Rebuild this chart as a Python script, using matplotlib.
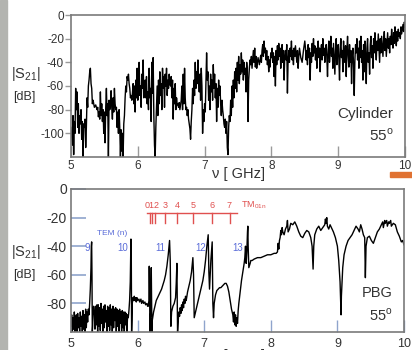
import matplotlib
matplotlib.use('Agg')
import matplotlib.pyplot as plt
from matplotlib.patches import Rectangle

plt.rcParams['font.family'] = ['Liberation Sans', 'DejaVu Sans']
plt.rcParams['axes.unicode_minus'] = False
plt.rcParams['mathtext.fontset'] = 'custom'
plt.rcParams['mathtext.rm'] = 'Liberation Sans'

# upper panel: cylinder, |S21| in dB vs frequency in GHz
cylinder = [
    (5.00, -95), (5.02, -110), (5.03, -85), (5.04, -118), (5.05, -90), (5.06, -100), (5.07, -62), (5.08, -80),
    (5.09, -65), (5.10, -95), (5.11, -75), (5.12, -100), (5.13, -85), (5.14, -92), (5.15, -80), (5.16, -105),
    (5.17, -90), (5.18, -120), (5.19, -92), (5.20, -95), (5.21, -88), (5.22, -112), (5.23, -95), (5.24, -70),
    (5.25, -78), (5.26, -60), (5.27, -55), (5.28, -48), (5.29, -45), (5.30, -58), (5.31, -62), (5.32, -75),
    (5.33, -72), (5.35, -78), (5.37, -76), (5.39, -80), (5.40, -78), (5.41, -86), (5.42, -82), (5.43, -88),
    (5.44, -65), (5.45, -85), (5.46, -75), (5.47, -90), (5.48, -80), (5.49, -100), (5.50, -82), (5.51, -108),
    (5.52, -78), (5.53, -62), (5.54, -85), (5.55, -75), (5.56, -120), (5.57, -72), (5.58, -80), (5.59, -76),
    (5.60, -64), (5.61, -78), (5.62, -88), (5.63, -70), (5.64, -82), (5.65, -62), (5.66, -75), (5.67, -80),
    (5.68, -78), (5.69, -95), (5.70, -82), (5.71, -100), (5.72, -80), (5.73, -95), (5.74, -120), (5.75, -97),
    (5.76, -115), (5.77, -100), (5.78, -120), (5.79, -92), (5.80, -85), (5.81, -70), (5.82, -60), (5.83, -65),
    (5.84, -52), (5.85, -55), (5.86, -50), (5.87, -58), (5.88, -62), (5.89, -70), (5.90, -68), (5.91, -72),
    (5.92, -66), (5.93, -58), (5.94, -75), (5.95, -60), (5.96, -82), (5.97, -55), (5.98, -70), (5.99, -45),
    (6.00, -72), (6.01, -62), (6.02, -40), (6.03, -68), (6.04, -60), (6.05, -78), (6.06, -50), (6.07, -62),
    (6.08, -38), (6.09, -70), (6.10, -64), (6.11, -55), (6.12, -70), (6.13, -52), (6.14, -75), (6.15, -65),
    (6.16, -80), (6.17, -45), (6.18, -70), (6.19, -62), (6.20, -90), (6.21, -40), (6.22, -66), (6.23, -36),
    (6.24, -85), (6.25, -110), (6.26, -120), (6.27, -95), (6.28, -78), (6.29, -60), (6.30, -85), (6.31, -55),
    (6.32, -75), (6.33, -48), (6.34, -68), (6.35, -58), (6.36, -80), (6.37, -45), (6.38, -62), (6.39, -52),
    (6.40, -78), (6.41, -50), (6.42, -60), (6.43, -45), (6.44, -68), (6.45, -55), (6.46, -62), (6.47, -50),
    (6.48, -58), (6.49, -60), (6.50, -52), (6.51, -70), (6.52, -55), (6.53, -88), (6.54, -62), (6.55, -75),
    (6.56, -58), (6.57, -80), (6.58, -70), (6.59, -76), (6.60, -75), (6.61, -78), (6.62, -74), (6.63, -80),
    (6.64, -76), (6.65, -72), (6.66, -60), (6.67, -80), (6.68, -50), (6.69, -75), (6.70, -45), (6.71, -70),
    (6.72, -80), (6.73, -78), (6.74, -85), (6.75, -80), (6.76, -88), (6.77, -92), (6.78, -96), (6.79, -105),
    (6.80, -90), (6.81, -80), (6.82, -62), (6.83, -75), (6.84, -55), (6.85, -68), (6.86, -40), (6.87, -62),
    (6.88, -48), (6.89, -58), (6.90, -38), (6.91, -55), (6.92, -65), (6.93, -50), (6.94, -72), (6.95, -45),
    (6.96, -60), (6.97, -100), (6.98, -80), (6.99, -90), (7.00, -75), (7.01, -82), (7.02, -58), (7.03, -32),
    (7.04, -55), (7.05, -48), (7.06, -72), (7.07, -60), (7.08, -80), (7.09, -50), (7.10, -65), (7.11, -55),
    (7.12, -72), (7.13, -42), (7.14, -62), (7.15, -50), (7.16, -70), (7.17, -58), (7.18, -90), (7.19, -62),
    (7.20, -78), (7.21, -55), (7.22, -68), (7.23, -60), (7.24, -75), (7.25, -85), (7.26, -72), (7.27, -80),
    (7.28, -85), (7.29, -92), (7.30, -95), (7.31, -88), (7.32, -100), (7.33, -90), (7.34, -112), (7.35, -118),
    (7.36, -95), (7.37, -85), (7.38, -90), (7.39, -72), (7.40, -85), (7.41, -60), (7.42, -78), (7.43, -55),
    (7.44, -70), (7.45, -48), (7.46, -62), (7.47, -45), (7.48, -65), (7.49, -40), (7.50, -55), (7.51, -35),
    (7.52, -58), (7.53, -42), (7.54, -50), (7.55, -32), (7.56, -48), (7.57, -38), (7.58, -55), (7.59, -40),
    (7.60, -50), (7.61, -45), (7.62, -65), (7.63, -40), (7.64, -48), (7.65, -90), (7.66, -55), (7.67, -45),
    (7.68, -38), (7.69, -42), (7.70, -35), (7.71, -45), (7.72, -38), (7.73, -30), (7.74, -40), (7.75, -28),
    (7.76, -44), (7.77, -35), (7.78, -45), (7.79, -40), (7.80, -36), (7.82, -42), (7.84, -34), (7.85, -40),
    (7.86, -30), (7.87, -25), (7.88, -35), (7.89, -22), (7.90, -32), (7.91, -28), (7.92, -38), (7.93, -30),
    (7.94, -42), (7.95, -35), (7.96, -48), (7.97, -38), (7.98, -44), (7.99, -32), (8.00, -36), (8.01, -28),
    (8.02, -40), (8.03, -32), (8.04, -52), (8.05, -35), (8.06, -60), (8.07, -30), (8.08, -42), (8.09, -26),
    (8.10, -38), (8.11, -24), (8.12, -35), (8.13, -28), (8.14, -45), (8.15, -32), (8.16, -25), (8.17, -40),
    (8.18, -30), (8.19, -55), (8.20, -35), (8.21, -30), (8.22, -38), (8.23, -25), (8.24, -66), (8.25, -38),
    (8.26, -30), (8.27, -40), (8.28, -28), (8.29, -35), (8.30, -22), (8.31, -38), (8.32, -30), (8.33, -42),
    (8.34, -28), (8.35, -35), (8.36, -26), (8.37, -33), (8.38, -40), (8.39, -30), (8.40, -45), (8.41, -35),
    (8.42, -28), (8.43, -32), (8.44, -36), (8.45, -38), (8.46, -40), (8.47, -35), (8.48, -30), (8.49, -26),
    (8.50, -22), (8.51, -28), (8.52, -38), (8.53, -30), (8.54, -42), (8.55, -25), (8.56, -36), (8.57, -28),
    (8.58, -55), (8.59, -32), (8.60, -40), (8.61, -24), (8.62, -35), (8.63, -20), (8.64, -32), (8.65, -26),
    (8.66, -38), (8.67, -28), (8.68, -45), (8.69, -30), (8.70, -22), (8.71, -36), (8.72, -28), (8.73, -48),
    (8.74, -30), (8.75, -25), (8.76, -38), (8.77, -20), (8.78, -34), (8.79, -28), (8.80, -40), (8.81, -30),
    (8.82, -25), (8.83, -36), (8.84, -52), (8.85, -30), (8.86, -22), (8.87, -40), (8.88, -30), (8.89, -18),
    (8.90, -35), (8.91, -28), (8.92, -45), (8.93, -24), (8.94, -38), (8.95, -50), (8.96, -30), (8.97, -20),
    (8.98, -42), (8.99, -32), (9.00, -25), (9.01, -38), (9.02, -55), (9.03, -28), (9.04, -20), (9.05, -36),
    (9.06, -30), (9.07, -48), (9.08, -22), (9.09, -35), (9.10, -40), (9.11, -26), (9.12, -52), (9.13, -30),
    (9.14, -18), (9.15, -35), (9.16, -44), (9.17, -25), (9.18, -40), (9.19, -30), (9.20, -58), (9.21, -35),
    (9.22, -28), (9.23, -42), (9.24, -68), (9.25, -38), (9.26, -25), (9.27, -32), (9.28, -20), (9.29, -38),
    (9.30, -28), (9.31, -45), (9.32, -22), (9.33, -36), (9.34, -18), (9.35, -40), (9.36, -30), (9.37, -55),
    (9.38, -25), (9.39, -48), (9.40, -22), (9.41, -35), (9.42, -58), (9.43, -28), (9.44, -20), (9.45, -40),
    (9.46, -32), (9.47, -50), (9.48, -25), (9.49, -18), (9.50, -36), (9.51, -26), (9.52, -45), (9.53, -20),
    (9.54, -32), (9.55, -15), (9.56, -28), (9.57, -38), (9.58, -22), (9.59, -30), (9.60, -16), (9.61, -28),
    (9.62, -40), (9.63, -20), (9.64, -32), (9.65, -18), (9.66, -26), (9.67, -35), (9.68, -22), (9.69, -14),
    (9.70, -30), (9.71, -20), (9.72, -35), (9.73, -25), (9.74, -15), (9.75, -28), (9.76, -20), (9.77, -32),
    (9.78, -18), (9.79, -25), (9.80, -12), (9.81, -22), (9.82, -28), (9.83, -15), (9.84, -24), (9.85, -10),
    (9.86, -20), (9.87, -26), (9.88, -14), (9.89, -22), (9.90, -12), (9.91, -18), (9.92, -15), (9.93, -20),
    (9.94, -10), (9.95, -16), (9.96, -12), (9.97, -8), (9.98, -14), (9.99, -6), (10.00, -10),
]

# lower panel: photonic band gap structure
pbg = [
    (5.00, -96), (5.01, -88), (5.02, -100), (5.03, -90), (5.04, -98), (5.05, -86), (5.06, -100), (5.07, -92),
    (5.08, -88), (5.09, -100), (5.10, -87), (5.11, -97), (5.12, -90), (5.13, -100), (5.14, -86), (5.15, -96),
    (5.16, -89), (5.17, -100), (5.18, -85), (5.19, -98), (5.20, -88), (5.21, -100), (5.22, -84), (5.23, -97),
    (5.24, -86), (5.25, -93), (5.26, -84), (5.27, -88), (5.28, -80), (5.29, -70), (5.30, -55), (5.305, -40),
    (5.31, -37), (5.315, -60), (5.32, -100), (5.325, -96), (5.33, -88), (5.34, -82), (5.35, -86), (5.36, -98),
    (5.37, -82), (5.38, -95), (5.39, -81), (5.40, -100), (5.41, -81), (5.42, -96), (5.43, -83), (5.44, -99),
    (5.45, -80), (5.46, -94), (5.47, -84), (5.48, -100), (5.49, -82), (5.50, -97), (5.51, -81), (5.52, -93),
    (5.53, -85), (5.54, -100), (5.55, -82), (5.56, -96), (5.57, -83), (5.58, -99), (5.59, -81), (5.60, -95),
    (5.61, -84), (5.62, -100), (5.63, -82), (5.64, -97), (5.65, -84), (5.66, -92), (5.67, -83), (5.68, -100),
    (5.69, -84), (5.70, -96), (5.71, -85), (5.72, -100), (5.73, -84), (5.74, -94), (5.75, -86), (5.76, -100),
    (5.77, -85), (5.78, -97), (5.79, -86), (5.80, -100), (5.81, -86), (5.82, -95), (5.83, -87), (5.84, -100),
    (5.85, -88), (5.86, -90), (5.87, -85), (5.88, -78), (5.89, -65), (5.895, -50), (5.90, -35), (5.905, -45),
    (5.91, -100), (5.915, -92), (5.92, -80), (5.93, -76), (5.94, -78), (5.95, -75), (5.96, -78), (5.97, -76),
    (5.98, -79), (5.99, -76), (6.00, -78), (6.02, -77), (6.03, -79), (6.05, -77), (6.06, -80), (6.08, -78),
    (6.09, -80), (6.11, -79), (6.12, -81), (6.14, -80), (6.15, -82), (6.16, -82), (6.17, -78), (6.175, -54),
    (6.18, -70), (6.185, -100), (6.19, -90), (6.20, -85), (6.205, -55), (6.21, -75), (6.215, -100), (6.22, -92),
    (6.24, -86), (6.26, -82), (6.28, -78), (6.30, -76), (6.32, -74), (6.34, -72), (6.36, -70), (6.38, -67),
    (6.40, -64), (6.42, -60), (6.44, -54), (6.46, -46), (6.48, -36), (6.49, -50), (6.50, -96), (6.51, -86),
    (6.53, -82), (6.55, -80), (6.57, -76), (6.58, -66), (6.59, -52), (6.60, -100), (6.61, -92), (6.62, -86),
    (6.63, -89), (6.64, -83), (6.65, -87), (6.66, -81), (6.67, -85), (6.68, -79), (6.69, -83), (6.70, -77),
    (6.71, -80), (6.72, -75), (6.73, -78), (6.75, -72), (6.77, -68), (6.79, -64), (6.81, -58), (6.83, -48),
    (6.84, -60), (6.85, -90), (6.86, -88), (6.88, -84), (6.90, -80), (6.92, -76), (6.94, -72), (6.96, -68),
    (6.98, -64), (7.00, -58), (7.02, -50), (7.04, -40), (7.06, -32), (7.07, -58), (7.08, -70), (7.10, -50),
    (7.12, -37), (7.13, -80), (7.14, -90), (7.15, -80), (7.17, -74), (7.19, -71), (7.21, -70), (7.23, -69),
    (7.25, -69), (7.27, -68), (7.29, -67), (7.31, -66), (7.33, -66), (7.35, -68), (7.37, -72), (7.39, -78),
    (7.41, -84), (7.43, -88), (7.44, -93), (7.45, -86), (7.46, -95), (7.47, -88), (7.48, -96), (7.49, -90),
    (7.50, -94), (7.51, -85), (7.52, -80), (7.54, -72), (7.56, -64), (7.58, -58), (7.60, -52), (7.61, -48),
    (7.62, -40), (7.63, -52), (7.64, -44), (7.65, -30), (7.655, -26), (7.66, -40), (7.67, -55), (7.69, -52),
    (7.70, -50), (7.72, -50), (7.75, -49), (7.80, -48), (7.85, -48), (7.90, -47), (7.95, -46), (8.00, -46),
    (8.05, -45), (8.08, -45), (8.10, -44), (8.11, -38), (8.12, -42), (8.13, -36), (8.14, -34), (8.15, -29),
    (8.16, -32), (8.17, -27), (8.18, -30), (8.20, -32), (8.22, -28), (8.24, -26), (8.25, -22), (8.26, -30),
    (8.28, -28), (8.30, -24), (8.33, -25), (8.36, -23), (8.39, -26), (8.42, -30), (8.45, -33), (8.48, -34),
    (8.51, -31), (8.54, -29), (8.57, -30), (8.60, -34), (8.62, -40), (8.635, -56), (8.645, -40), (8.66, -32),
    (8.69, -28), (8.72, -26), (8.75, -29), (8.78, -27), (8.81, -25), (8.82, -21), (8.83, -24), (8.84, -20),
    (8.85, -26), (8.87, -28), (8.89, -25), (8.91, -27), (8.94, -30), (8.97, -34), (9.00, -40), (9.02, -50),
    (9.04, -65), (9.05, -80), (9.055, -88), (9.06, -75), (9.08, -55), (9.10, -46), (9.13, -40), (9.16, -36),
    (9.19, -34), (9.22, -32), (9.25, -29), (9.28, -26), (9.31, -28), (9.33, -30), (9.35, -25), (9.37, -28),
    (9.39, -32), (9.41, -34), (9.42, -62), (9.43, -40), (9.45, -34), (9.48, -33), (9.51, -36), (9.54, -38),
    (9.57, -34), (9.60, -30), (9.63, -28), (9.66, -25), (9.68, -23), (9.69, -27), (9.71, -22), (9.72, -24),
    (9.74, -22), (9.75, -26), (9.77, -23), (9.78, -24), (9.80, -22), (9.81, -26), (9.84, -24), (9.87, -25),
    (9.90, -30), (9.93, -33), (9.96, -37), (9.98, -36), (10.00, -39),
]

# TM_01n mode markers (red) and TEM(n) labels (blue)
tm_labels = ['0', '1', '2', '3', '4', '5', '6', '7']
tm_freqs = [6.18, 6.22, 6.26, 6.41, 6.59, 6.83, 7.12, 7.38]
tem_labels = ['9', '10', '11', '12', '13']
tem_freqs = [5.24, 5.77, 6.34, 6.94, 7.51]

freq_ticks = [5, 6, 7, 8, 9, 10]

W, H = 412, 350
fig = plt.figure(figsize=(W / 100, H / 100), dpi=100)
fig.patch.set_facecolor('white')

def px(x, y):
    # pixel coords (from top-left) -> figure fraction
    return x / W, 1 - y / H

spine_col = '#7a7a7a'
txt_col = '#333333'
blue = '#5a6cd8'
red = '#e0504f'
tick_blue = '#8fa4cc'

# little bits of the slide photo around the plots
fig.patches.append(Rectangle(px(0, 350), 7 / W, 1, transform=fig.transFigure, color='#b3b4b0', zorder=0))
fig.patches.append(Rectangle(px(390, 177), 22 / W, 5 / H, transform=fig.transFigure, color='#e07232', zorder=0))

# ---------- top panel ----------
ax1 = fig.add_axes([71 / W, 1 - 157 / H, 334 / W, 142 / H])
ax1.plot([p[0] for p in cylinder], [p[1] for p in cylinder], color='black', lw=1.0)
ax1.set_xlim(5, 10)
ax1.set_ylim(-120, 0)
ax1.set_xticks(freq_ticks)
ax1.set_xticklabels([str(t) for t in freq_ticks])
ax1.set_yticks([0, -20, -40, -60, -80, -100])
ax1.tick_params(axis='x', direction='in', length=8, width=1, color='#9a9a9a',
                labelsize=8.5, labelcolor=txt_col, pad=2)
ax1.tick_params(axis='y', direction='out', length=4, width=1, color='#9a9a9a',
                labelsize=8.5, labelcolor=txt_col, pad=1)
for s in ax1.spines.values():
    s.set_color(spine_col)
    s.set_linewidth(1.2)
ax1.text(0.965, 0.30, 'Cylinder', transform=ax1.transAxes, ha='right', va='center',
         fontsize=11, color=txt_col)
ax1.text(0.965, 0.155, '55$^\\mathregular{o}$', transform=ax1.transAxes, ha='right', va='center',
         fontsize=11, color=txt_col)

fig.text(*px(26, 74), '|S$_\\mathregular{21}$|', ha='center', va='center', fontsize=10.5, color=txt_col)
fig.text(*px(24, 97), '[dB]', ha='center', va='center', fontsize=9, color=txt_col)
fig.text(*px(238, 174), '\u03bd [ GHz]', ha='center', va='center', fontsize=10.5, color=txt_col)

# ---------- bottom panel ----------
ax2 = fig.add_axes([71 / W, 1 - 332 / H, 333 / W, 143 / H])
ax2.plot([p[0] for p in pbg], [p[1] for p in pbg], color='black', lw=1.0)
ax2.set_xlim(5, 10)
ax2.set_ylim(-100, 0)
ax2.set_xticks(freq_ticks)
ax2.set_xticklabels([str(t) for t in freq_ticks])
ax2.set_yticks([0, -20, -40, -60, -80])
ax2.tick_params(axis='x', direction='in', length=9, width=1, color=tick_blue,
                labelsize=9, labelcolor=txt_col, pad=4)
ax2.tick_params(axis='y', direction='in', length=11, width=1.2, color=tick_blue,
                labelsize=10, labelcolor=txt_col, pad=3)
for s in ax2.spines.values():
    s.set_color(spine_col)
    s.set_linewidth(1.2)
ax2.text(0.965, 0.27, 'PBG', transform=ax2.transAxes, ha='right', va='center',
         fontsize=10.5, color=txt_col)
ax2.text(0.965, 0.12, '55$^\\mathregular{o}$', transform=ax2.transAxes, ha='right', va='center',
         fontsize=10.5, color=txt_col)

# TM_01n comb; the first three marks sit so close that their labels read as one "012"
ax2.plot([6.14, 7.49], [-16.5, -16.5], color=red, lw=1)
for f in tm_freqs:
    ax2.plot([f, f], [-16.5, -23.5], color=red, lw=1)
ax2.text(tm_freqs[1], -11.5, ''.join(tm_labels[:3]), ha='center', va='center', fontsize=6.5, color=red)
for f, lab in zip(tm_freqs[3:], tm_labels[3:]):
    ax2.text(f, -11.5, lab, ha='center', va='center', fontsize=6.5, color=red)
ax2.text(7.55, -11.5, 'TM$_\\mathregular{01n}$', ha='left', va='center', fontsize=6.5, color=red)

# TEM(n) labels
for f, lab in zip(tem_freqs, tem_labels):
    ax2.text(f, -41.5, lab, ha='center', va='center', fontsize=7, color=blue)
ax2.text(5.61, -31, 'TEM (n)', ha='center', va='center', fontsize=6, color=blue)

fig.text(*px(26, 252), '|S$_\\mathregular{21}$|', ha='center', va='center', fontsize=10.5, color=txt_col)
fig.text(*px(24, 275), '[dB]', ha='center', va='center', fontsize=9, color=txt_col)
fig.text(*px(238, 356), '\u03bd [ GHz]', ha='center', va='center', fontsize=10.5, color=txt_col)

fig.savefig('out.png', dpi=100)
